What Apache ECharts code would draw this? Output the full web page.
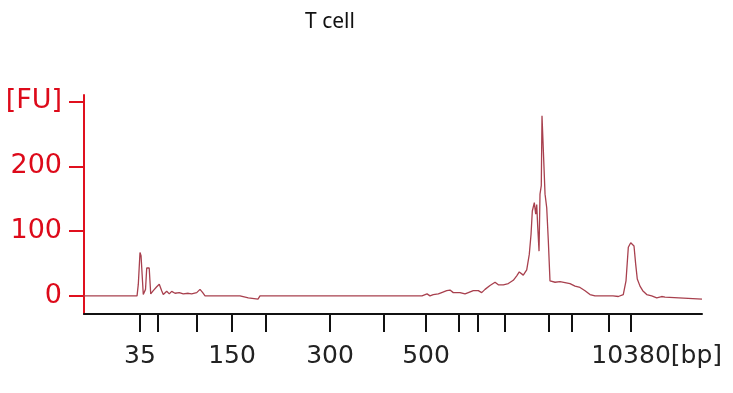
<!DOCTYPE html>
<html>
<head>
<meta charset="utf-8">
<script src="https://cdn.jsdelivr.net/npm/echarts@6/dist/echarts.min.js"></script>
<style>html,body{margin:0;padding:0;background:#fff}#c{width:733px;height:393px}</style>
</head>
<body>
<div id="c"></div>
<script>
// Migration time (s) of each trace sample
var times = [40, 46.63, 46.79, 47.0, 47.13, 47.29, 47.41, 47.54, 47.69, 47.84, 48.15, 48.34, 48.66, 49.09, 49.41, 49.71, 49.91, 50.34, 50.66, 50.96, 51.38, 51.91, 52.41, 53.04, 53.46, 54.09, 54.5, 54.84, 55.13, 59.5, 59.71, 60.54, 60.75, 61.75, 62.0, 63.75, 63.88, 64.0, 82.25, 82.5, 82.88, 83.25, 83.66, 84.29, 84.71, 85.34, 85.75, 86.16, 87.0, 87.63, 88.04, 88.66, 89.29, 89.71, 90.13, 90.75, 91.38, 91.79, 92.41, 93.04, 93.66, 94.09, 94.41, 94.91, 95.34, 95.66, 95.88, 96.04, 96.29, 96.46, 96.59, 96.71, 96.88, 97.0, 97.16, 97.25, 97.5, 97.63, 97.84, 98.04, 98.25, 98.88, 99.5, 100.75, 101.38, 102.0, 102.63, 103.25, 103.88, 105.75, 105.96, 106.13, 106.79, 107.41, 107.75, 108.04, 108.34, 108.54, 108.75, 108.96, 109.16, 109.5, 109.84, 110.34, 110.96, 111.59, 112.21, 112.63, 112.84, 117.25];
// Fluorescence (FU) at each sample
var fu = [0, 0, 18, 67, 62, 59, 2, 2, 10, 43, 43, 3, 8, 14, 18, 8, 2, 7, 3, 7, 4, 5, 3, 4, 3, 5, 10, 5, 0, 0, -3, -3, -5, -5, 0, 0, -2, 0, 0, 2, 3, 0, 2, 3, 5, 8, 9, 5, 5, 3, 5, 8, 8, 5, 10, 16, 21, 17, 17, 19, 24, 31, 37, 32, 40, 64, 95, 131, 144, 126, 141, 108, 69, 157, 170, 278, 275, 157, 136, 85, 23, 21, 22, 19, 15, 13, 8, 2, 0, 0, -3, 0, -1, 2, 23, 75, 82, 84, 77, 49, 26, 15, 8, 2, 0, -3, -1, -2, -5, -5];
// Ladder peaks: migration time (s) and size (bp)
var ladderTimes = [47.0, 49.25, 54.13, 58.5, 62.75, 70.75, 77.5, 82.75, 86.88, 89.25, 92.63, 98.13, 101.0, 105.63, 108.38];
var ladderBp = [35, 50, 100, 150, 200, 300, 400, 500, 600, 700, 1000, 2000, 3000, 7000, 10380];
var labeledBp = [35, 150, 300, 500, 10380];
var labelTimes = ladderTimes.filter(function (t, i) { return labeledBp.indexOf(ladderBp[i]) >= 0; });
var yTicks = [0, 100, 200, 300];
var yTickLabels = ['0', '100', '200', '[FU]'];

var data = times.map(function (t, i) { return [t, fu[i]]; });

var chart = echarts.init(document.getElementById('c'), null, {renderer: 'canvas'});
chart.setOption({
  animation: false,
  backgroundColor: '#ffffff',
  title: {
    text: 'T cell',
    left: 300, top: 7,
    textStyle: {fontFamily: 'Noto Sans', fontSize: 21, fontWeight: 'normal', color: '#111'}
  },
  grid: {left: 84, right: 31, top: 95, bottom: 79, outerBoundsMode: 'none'},
  xAxis: {
    type: 'value', min: 40, max: 117.25,
    axisLine: {show: true, onZero: false, lineStyle: {color: '#111', width: 2}},
    axisTick: {show: true, customValues: ladderTimes, length: 18, lineStyle: {color: '#111', width: 2}},
    axisLabel: {
      customValues: labelTimes,
      margin: 30,
      fontFamily: 'DejaVu Sans', fontSize: 25, color: '#222',
      formatter: function (v) {
        var idx = ladderTimes.indexOf(v);
        var bp = ladderBp[idx];
        if (idx === ladderTimes.length - 1) return '{p|[bp]}' + bp + '[bp]';
        return String(bp);
      },
      rich: {p: {color: 'rgba(0,0,0,0)', fontFamily: 'DejaVu Sans', fontSize: 25}}
    },
    splitLine: {show: false}
  },
  yAxis: {
    type: 'value', min: -28, max: 310,
    axisLine: {show: true, onZero: false, lineStyle: {color: '#e0101e', width: 2}},
    axisTick: {show: true, customValues: yTicks, length: 15, lineStyle: {color: '#e0101e', width: 2}},
    axisLabel: {
      customValues: yTicks, margin: 22,
      fontFamily: 'DejaVu Sans', fontSize: 27, color: '#dd0a1a',
      formatter: function (v) { return yTickLabels[yTicks.indexOf(v)]; }
    },
    splitLine: {show: false}
  },
  series: [{
    type: 'line', data: data, symbol: 'none',
    lineStyle: {color: '#a8404e', width: 1.3}
  }]
});
</script>
</body>
</html>
